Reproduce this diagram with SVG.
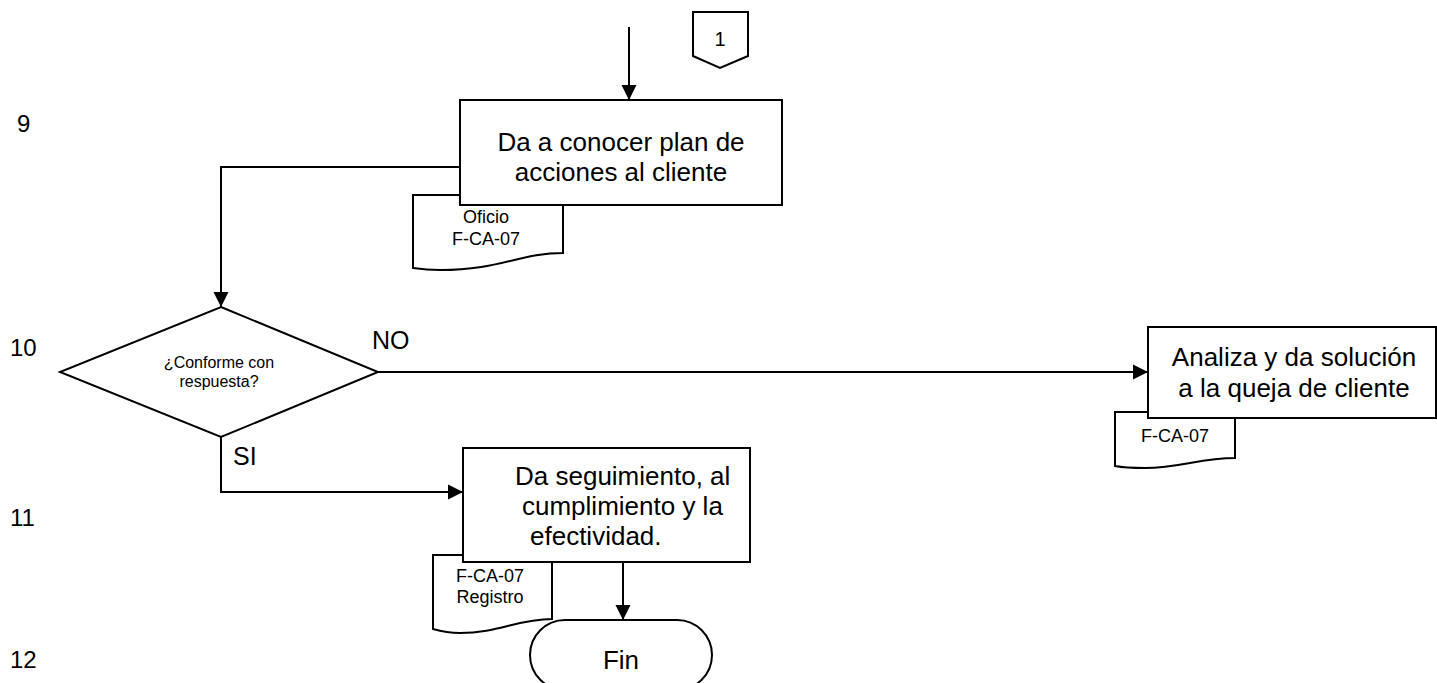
<svg xmlns="http://www.w3.org/2000/svg" width="1437" height="683" viewBox="0 0 1437 683">
<style>
.shape{fill:#fff;stroke:#000;stroke-width:2}
.line{fill:none;stroke:#000;stroke-width:2}
text{font-family:"Liberation Sans",Arial,sans-serif;fill:#000}
.big{font-size:26px;text-anchor:middle}
.small{font-size:18px;text-anchor:middle}
.dia{font-size:16px;text-anchor:middle}
.lbl{font-size:25px}
.num{font-size:24px}
</style>
<defs>
<marker id="arr" markerUnits="userSpaceOnUse" markerWidth="16" markerHeight="16" viewBox="0 0 16 16" refX="15" refY="8" orient="auto">
<path d="M0,0.5 L15,8 L0,15.5 Z" fill="#000"/>
</marker>
</defs>
<g id="row-numbers">
<text class="num" x="17" y="132">9</text>
<text class="num" x="10" y="356">10</text>
<text class="num" x="10" y="526">11</text>
<text class="num" x="10" y="668">12</text>
</g>
<g id="connectors">
<line class="line" x1="629" y1="27" x2="629" y2="100" marker-end="url(#arr)"/>
<polyline class="line" points="460,167 221,167 221,307" marker-end="url(#arr)"/>
<line class="line" x1="378" y1="372" x2="1148" y2="372" marker-end="url(#arr)"/>
<polyline class="line" points="221,437 221,492 463,492" marker-end="url(#arr)"/>
<line class="line" x1="623" y1="562" x2="623" y2="620" marker-end="url(#arr)"/>
<text class="lbl" x="372" y="349">NO</text>
<text class="lbl" x="233" y="465">SI</text>
</g>
<g id="offpage-1">
<polygon class="shape" points="693,12 748,12 748,56 720,68 693,56"/>
<text x="720" y="46" style="font-size:20px;text-anchor:middle">1</text>
</g>
<g id="doc-oficio">
<path class="shape" d="M413,195 H563 V253 C520,253 500,270 440,270 C428,270 420,269 413,268 Z"/>
<text class="small" x="486" y="223">Oficio</text>
<text class="small" x="486" y="245">F-CA-07</text>
</g>
<g id="node-plan">
<rect class="shape" x="460" y="100" width="322" height="105"/>
<text class="big" x="621" y="151">Da a conocer plan de</text>
<text class="big" x="621" y="181">acciones al cliente</text>
</g>
<g id="decision">
<polygon class="shape" points="221,307 378,372 221,437 60,372"/>
<text class="dia" x="219" y="368">¿Conforme con</text>
<text class="dia" x="219" y="387">respuesta?</text>
</g>
<g id="doc-fca07">
<path class="shape" d="M1115,412 H1235 V458 C1200,458 1180,468 1145,468 C1130,468 1120,467 1115,466 Z"/>
<text class="small" x="1175" y="442">F-CA-07</text>
</g>
<g id="node-analiza">
<rect class="shape" x="1148" y="327" width="288" height="91"/>
<text class="big" x="1294" y="366">Analiza y da solución</text>
<text class="big" x="1294" y="397">a la queja de cliente</text>
</g>
<g id="doc-registro">
<path class="shape" d="M433,555 H552 V619 C518,619 498,633 460,633 C448,633 440,631 433,629 Z"/>
<text class="small" x="490" y="582">F-CA-07</text>
<text class="small" x="490" y="603">Registro</text>
</g>
<g id="node-seguimiento">
<rect class="shape" x="463" y="448" width="287" height="114"/>
<text style="font-size:26px" x="515" y="485">Da seguimiento, al</text>
<text style="font-size:26px" x="522" y="515">cumplimiento y la</text>
<text style="font-size:26px" x="530" y="545">efectividad.</text>
</g>
<g id="terminal-fin">
<rect class="shape" x="530" y="620" width="182" height="70" rx="35" ry="35"/>
<text class="big" x="621" y="669">Fin</text>
</g>
</svg>
